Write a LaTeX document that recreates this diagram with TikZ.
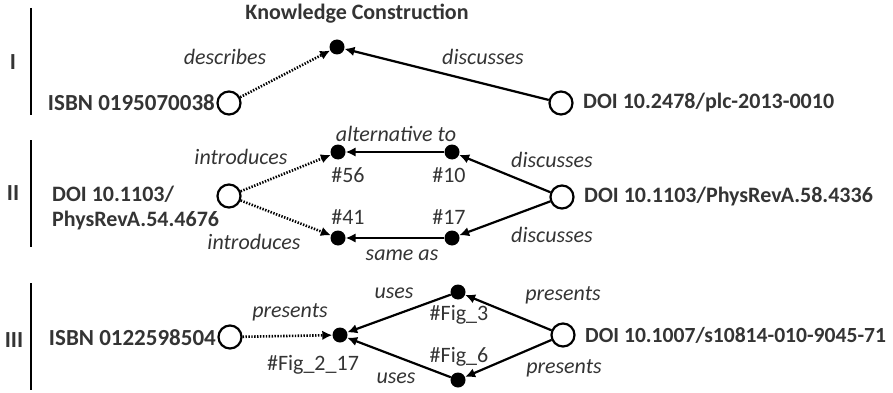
\documentclass[tikz,border=0pt]{standalone}
\usepackage{fontspec}
\setmainfont{Carlito}
\usetikzlibrary{arrows.meta}
\definecolor{txt}{RGB}{52,52,52}
\begin{document}
\begin{tikzpicture}[x=1pt,y=-1pt,
  every node/.style={font=\fontsize{22}{25}\selectfont, text=txt, inner sep=0pt},
  lbl/.style={font=\fontsize{22}{25}\selectfont\itshape},
  bld/.style={font=\fontsize{22}{25}\selectfont\bfseries},
  bldl/.style={font=\fontsize{23}{25}\selectfont\bfseries},
  opencirc/.style={circle, draw=black, line width=2.2pt, minimum size=23pt, fill=white},
  fdot/.style={circle, fill=black, minimum size=15pt},
  arr/.style={line width=2.2pt, -{Latex[length=10pt,width=9.5pt]}},
  dotline/.style={line width=2.6pt, dash pattern=on 1.4pt off 1.5pt, -{Latex[length=10pt,width=9.5pt]}},
  bar/.style={line width=2.6pt}]
\useasboundingbox (0,0) rectangle (893,393);
% section bars
\coordinate (b1t) at (31,8); \coordinate (b1b) at (31,115);
\coordinate (b2t) at (31,140); \coordinate (b2b) at (31,247);
\coordinate (b3t) at (31,283); \coordinate (b3b) at (31,390);
\draw[bar] (b1t) -- (b1b);
\draw[bar] (b2t) -- (b2b);
\draw[bar] (b3t) -- (b3b);
\node[bldl] (r1) at (13,62) {I};
\node[bldl] (r2) at (13,193) {II};
\node[bldl] (r3) at (14,340) {III};
% ---- Section I
\node[bld] (kc) at (357,14) {Knowledge Construction};
\node[fdot] (k) at (337,47) {};
\node[opencirc] (c1) at (229,103) {};
\node[opencirc] (c2) at (561,103) {};
\node[bldl, anchor=east] (t1) at (215,103) {ISBN 0195070038};
\node[bld, anchor=west] (t2) at (583,103) {DOI 10.2478/plc-2013-0010};
\draw[dotline] (c1) -- (k);
\draw[arr] (c2) -- (k);
\node[lbl] (l1) at (225,57) {describes};
\node[lbl] (l2) at (483,57) {discusses};
% ---- Section II
\node[opencirc] (c3) at (229,196) {};
\node[opencirc] (c4) at (562,197) {};
\node[fdot] (d56) at (338,152) {};
\node[fdot] (d10) at (452,152) {};
\node[fdot] (d41) at (338,238) {};
\node[fdot] (d17) at (452,238) {};
\node[bld, anchor=west, align=left] (t3) at (52,208.5) {DOI 10.1103/\\PhysRevA.54.4676};
\node[bld, anchor=west] (t4) at (584,197) {DOI 10.1103/PhysRevA.58.4336};
\draw[dotline] (c3) -- (d56);
\draw[dotline] (c3) -- (d41);
\draw[arr] (d10) -- (d56);
\draw[arr] (d17) -- (d41);
\draw[arr] (c4) -- (d10);
\draw[arr] (c4) -- (d17);
\node[lbl] (l3) at (241,157) {introduces};
\node[lbl] (l4) at (254,242) {introduces};
\node[lbl] (l5) at (396,134) {alternative to};
\node[lbl] (l6) at (402,255) {same as};
\node (n56) at (348,175) {\#56};
\node (n10) at (449,175) {\#10};
\node (n41) at (348,217) {\#41};
\node (n17) at (449,217) {\#17};
\node[lbl] (l7) at (552,160) {discusses};
\node[lbl] (l8) at (552,235) {discusses};
% ---- Section III
\node[opencirc] (c5) at (230,337) {};
\node[opencirc] (c6) at (563,335) {};
\node[fdot] (f217) at (340,335) {};
\node[fdot] (f3) at (458,292) {};
\node[fdot] (f6) at (458,380) {};
\node[bldl, anchor=east] (t5) at (216,338) {ISBN 0122598504};
\node[bld, anchor=west, font=\fontsize{21.6}{25}\selectfont\bfseries] (t6) at (585,335) {DOI 10.1007/s10814-010-9045-71};
\draw[dotline] (c5) -- (f217);
\draw[arr] (f3) -- (f217);
\draw[arr] (f6) -- (f217);
\draw[arr] (c6) -- (f3);
\draw[arr] (c6) -- (f6);
\node[lbl] (l9) at (290,312) {presents};
\node (n217) at (313,365) {\#Fig\_2\_17};
\node[lbl] (l10) at (394,293) {uses};
\node[lbl] (l11) at (396,378) {uses};
\node (nf3) at (459,315) {\#Fig\_3};
\node (nf6) at (459,357) {\#Fig\_6};
\node[lbl] (l12) at (563,295) {presents};
\node[lbl] (l13) at (564,368) {presents};
\end{tikzpicture}
\end{document}
